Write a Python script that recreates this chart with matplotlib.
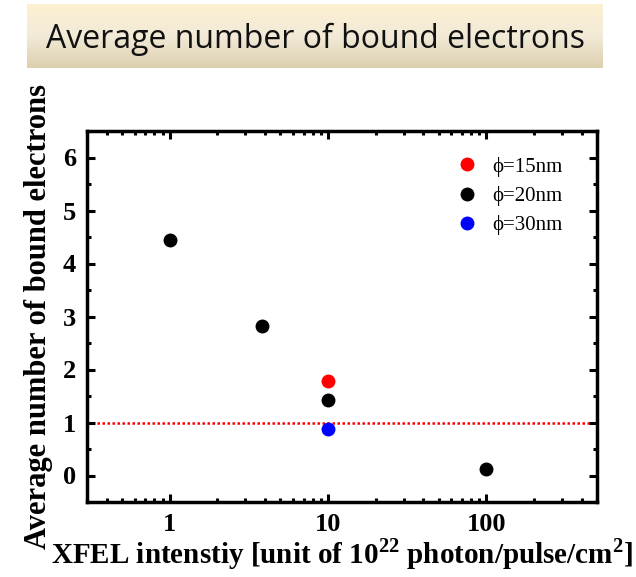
import numpy as np
import matplotlib
matplotlib.use('Agg')
import matplotlib.pyplot as plt
from matplotlib.colors import LinearSegmentedColormap
from matplotlib.ticker import MultipleLocator, LogLocator, FixedLocator, FixedFormatter

# data
x_20nm = [1.0, 3.8, 10.0, 100.0]
y_20nm = [4.45, 2.82, 1.43, 0.12]
x_15nm = [10.0]
y_15nm = [1.78]
x_30nm = [10.0]
y_30nm = [0.88]
ref_level = 1.0

plt.rcParams['font.family'] = ['Liberation Serif', 'DejaVu Serif']
plt.rcParams['mathtext.fontset'] = 'custom'
plt.rcParams['mathtext.rm'] = 'Liberation Serif'
plt.rcParams['mathtext.bf'] = 'Liberation Serif:bold'

fig = plt.figure(figsize=(6.36, 5.77), dpi=100)

# title banner with gradient
bax = fig.add_axes([27 / 636, 1 - 68 / 577, 576 / 636, 64 / 577])
grad = np.linspace(0, 1, 100).reshape(-1, 1)
cmap = LinearSegmentedColormap.from_list('banner', ['#fdf0d2', '#f2ead8', '#ddd0ae'])
bax.imshow(grad, aspect='auto', cmap=cmap, extent=[0, 1, 0, 1])
bax.set_axis_off()
bax.text(0.5, 0.44, 'Average number of bound electrons', ha='center', va='center',
         fontsize=23, family=['Open Sans', 'DejaVu Sans'], color='#111111')

ax = fig.add_axes([87 / 636, 1 - 502 / 577, 510 / 636, 371 / 577])
ax.set_xscale('log')

ax.axhline(ref_level, color='red', linestyle=(0, (1, 1)), linewidth=1.8, zorder=1)
ax.plot(x_15nm, y_15nm, 'o', color='red', markersize=9, label='ϕ=15nm', zorder=3)
ax.plot(x_20nm, y_20nm, 'o', color='black', markersize=9, label='ϕ=20nm', zorder=3)
ax.plot(x_30nm, y_30nm, 'o', color='blue', markersize=9, label='ϕ=30nm', zorder=3)

ax.set_xlim(0.3, 500)
ax.set_ylim(-0.5, 6.5)

ax.xaxis.set_major_locator(FixedLocator([1, 10, 100]))
ax.xaxis.set_major_formatter(FixedFormatter(['1', '10', '100']))
ax.xaxis.set_minor_locator(LogLocator(base=10, subs=np.arange(2, 10)))
ax.xaxis.set_minor_formatter(plt.NullFormatter())
ax.yaxis.set_major_locator(MultipleLocator(1))
ax.yaxis.set_minor_locator(MultipleLocator(0.5))

ax.tick_params(which='both', direction='in', top=True, right=True, width=2.2)
ax.tick_params(which='major', length=6, labelsize=19, pad=8)
ax.tick_params(which='minor', length=3)
for lab in ax.get_xticklabels() + ax.get_yticklabels():
    lab.set_fontweight('bold')
for s in ax.spines.values():
    s.set_linewidth(2.5)

ax.set_xlabel(r'XFEL intenstiy [unit of 10$^{\mathbf{22}}$ photon/pulse/cm$^{\mathbf{2}}$]',
              fontsize=21, fontweight='bold', labelpad=0)
ax.set_ylabel('Average number of bound electrons', fontsize=22, fontweight='bold', labelpad=7)

ax.legend(loc='upper right', frameon=False, fontsize=15, handletextpad=0.6,
          labelspacing=0.45, handlelength=1.2, borderaxespad=0.3,
          bbox_to_anchor=(0.96, 0.97))

fig.savefig('out.png', dpi=100)
